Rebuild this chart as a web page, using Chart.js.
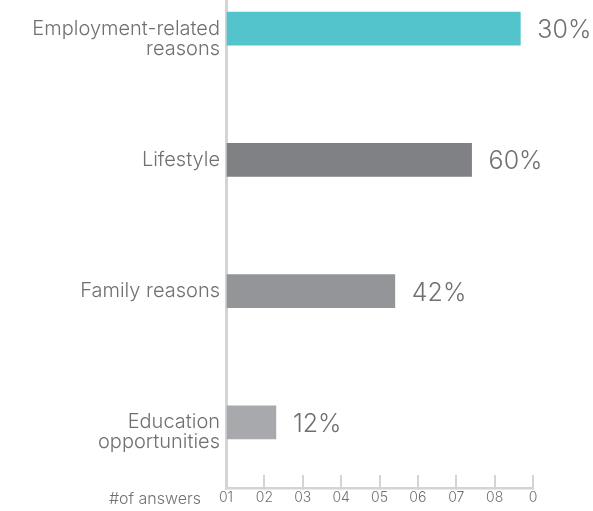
<!DOCTYPE html>
<html>
<head>
<meta charset="utf-8">
<script src="https://cdn.jsdelivr.net/npm/chart.js@4/dist/chart.umd.min.js"></script>
<style>
  html, body { margin: 0; padding: 0; background: #fff; overflow: hidden; }
  #wrap { position: relative; width: 593px; height: 511px; overflow: hidden; }
  #answersChart { position: absolute; left: 0; top: -37px; }
</style>
</head>
<body>
<div id="wrap">
  <canvas id="answersChart" width="593" height="548"></canvas>
</div>
<script>
// Chart data
const categories = [
    ['Employment-related', 'reasons'],
    ['Lifestyle'],
    ['Family reasons'],
    ['Education', 'opportunities']
];
const answers = [7.67, 6.4, 4.4, 1.3];
const percentLabels = ['30%', '60%', '42%', '12%'];
const tickLabels = ['01', '02', '03', '04', '05', '06', '07', '08', '0'];
const barColors = ['#53c4cc', '#808184', '#939598', '#a7a9ac'];

const FONT = 'Inter, "Open Sans", sans-serif';
const TEXT = '#6f7073';
const AXIS = '#d3d4d6';

// draws the % next to each bar and the "#of answers" caption
const valueLabels = {
    id: 'valueLabels',
    afterDatasetsDraw(chart) {
        const ctx = chart.ctx;
        const meta = chart.getDatasetMeta(0);
        ctx.save();
        ctx.font = '300 25px ' + FONT;
        ctx.fillStyle = TEXT;
        ctx.textAlign = 'left';
        ctx.textBaseline = 'middle';
        meta.data.forEach((bar, i) => {
            ctx.fillText(percentLabels[i], bar.x + 17, bar.y + 2);
        });
        ctx.font = '300 16px ' + FONT;
        ctx.textAlign = 'right';
        ctx.fillText('#of answers', chart.chartArea.left - 25, chart.chartArea.bottom + 11);
        ctx.restore();
    }
};

new Chart(document.getElementById('answersChart'), {
    type: 'bar',
    data: {
        // first line sits on the bar, extra lines hang below it
        labels: categories.map(lines => Array(lines.length - 1).fill('').concat(lines)),
        datasets: [{
            data: answers,
            backgroundColor: barColors,
            barThickness: 33
        }]
    },
    options: {
        indexAxis: 'y',
        responsive: false,
        animation: false,
        layout: { padding: { top: 0, right: 60, bottom: 0, left: 0 } },
        plugins: {
            legend: { display: false },
            tooltip: { enabled: false }
        },
        scales: {
            x: {
                type: 'linear',
                min: 0,
                max: 8,
                afterFit: scale => { scale.height = 23; },
                ticks: {
                    stepSize: 1,
                    padding: 14,
                    color: TEXT,
                    font: { family: FONT, size: 14, weight: 300 },
                    maxRotation: 0,
                    autoSkip: false,
                    callback: (value) => tickLabels[value]
                },
                grid: {
                    drawOnChartArea: false,
                    drawTicks: true,
                    tickLength: -13,
                    tickColor: AXIS,
                    lineWidth: 2
                },
                border: { color: AXIS, width: 2.5 }
            },
            y: {
                afterFit: scale => {
                    scale.width = 226;
                    scale.paddingTop = 0;
                    scale.paddingBottom = 0;
                },
                ticks: {
                    padding: 6,
                    color: TEXT,
                    font: { family: FONT, size: 20, weight: 300, lineHeight: 1.0 }
                },
                grid: { drawOnChartArea: false, drawTicks: false },
                border: { color: AXIS, width: 3 }
            }
        }
    },
    plugins: [valueLabels]
});
</script>
</body>
</html>
